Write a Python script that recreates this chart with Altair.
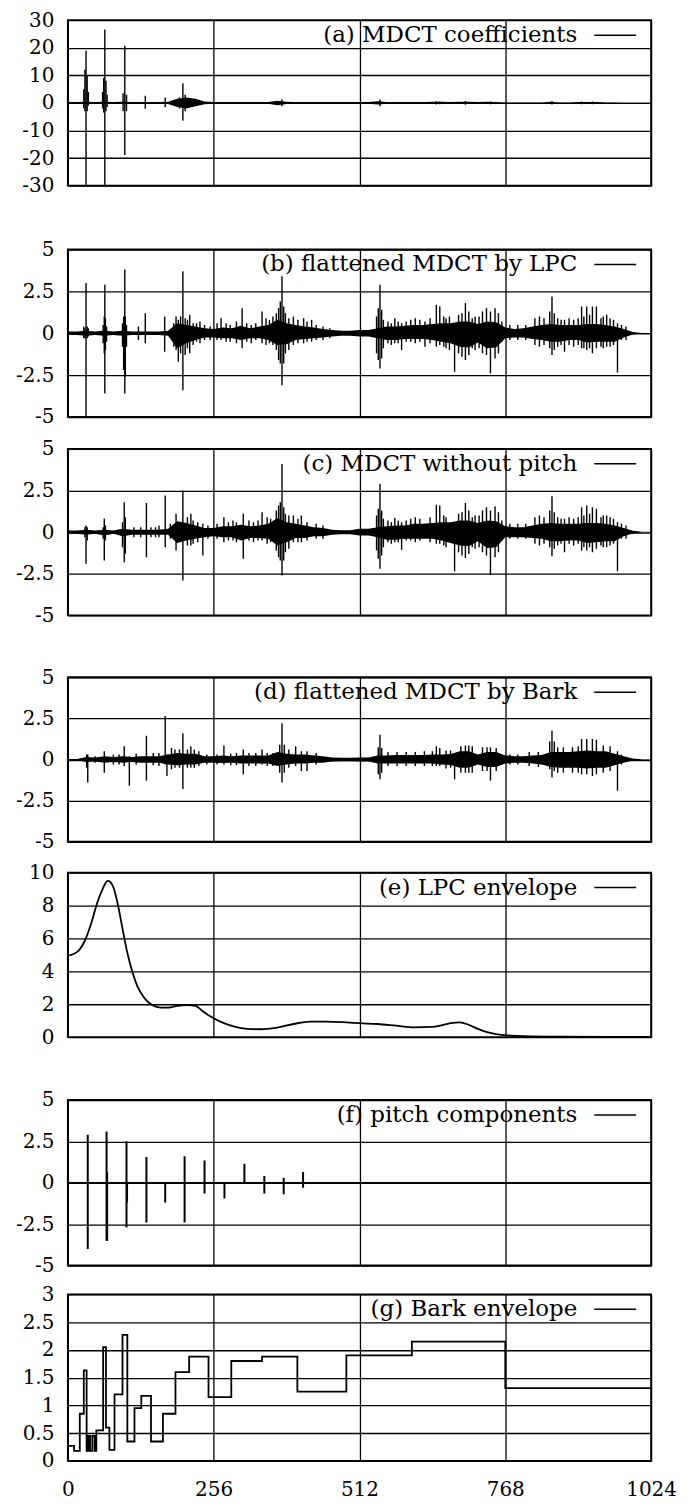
import altair as alt
import pandas as pd

# ---------------- data ----------------
X_TICKS = [0, 256, 512, 768, 1024]
ENV_BINS = list(range(0, 1025, 16))

LABELS = ["(a) MDCT coefficients", "(b) flattened MDCT by LPC", "(c) MDCT without pitch",
          "(d) flattened MDCT by Bark", "(e) LPC envelope", "(f) pitch components",
          "(g) Bark envelope"]

# (a) MDCT coefficients: dense core + individual spikes
A_HI = [0.3, 0.3, 0.4, 0.3, 0.4, 0.3, 0.4, 0.3,
        0.3, 0.3, 0.3, 0.4, 1.5, 2.0, 1.5, 0.5,
        0.3, 0.3, 0.3, 0.3, 0.3, 0.3, 0.3, 0.8,
        0.4, 0.3, 0.3, 0.3, 0.3, 0.3, 0.3, 0.3,
        0.3, 0.3, 0.6, 0.3, 0.3, 0.3, 0.3, 0.3,
        0.4, 0.4, 0.3, 0.4, 0.4, 0.3, 0.4, 0.3,
        0.2, 0.2, 0.2, 0.2, 0.2, 0.4, 0.2, 0.2,
        0.3, 0.3, 0.3, 0.2, 0.2, 0.1, 0.1, 0.1,
        0.1]
A_LO = [-0.3, -0.3, -0.4, -0.3, -0.4, -0.3, -0.4, -0.3,
        -0.3, -0.3, -0.3, -0.4, -1.5, -2.0, -1.2, -0.5,
        -0.3, -0.3, -0.3, -0.3, -0.3, -0.3, -0.3, -0.8,
        -0.4, -0.3, -0.3, -0.3, -0.3, -0.3, -0.3, -0.3,
        -0.3, -0.3, -0.6, -0.3, -0.3, -0.3, -0.3, -0.3,
        -0.4, -0.4, -0.3, -0.4, -0.4, -0.3, -0.4, -0.3,
        -0.2, -0.2, -0.2, -0.2, -0.2, -0.4, -0.2, -0.2,
        -0.3, -0.3, -0.3, -0.2, -0.2, -0.1, -0.1, -0.1,
        -0.1]
A_SPK_BIN = [28, 30, 32, 34, 36, 61, 63, 65, 67, 69, 97, 100, 103, 136, 171,
             196, 202, 206, 376, 548, 647, 653, 698, 742, 850, 902, 921]
A_SPK_LO = [-2, -3, -30, -3, -1, -2, -3.5, -30, -3, -1.5, -3, -18.9, -3, -2.1, -1.5,
            -2, -6.5, -3, -1.2, -1.2, -0.6, -0.5, -0.7, -0.5, -0.6, -0.5, -0.5]
A_SPK_HI = [5, 12, 18.9, 10, 4, 4, 9, 26.6, 8, 3, 3.5, 20.7, 3, 2.6, 2.0,
            2, 7.1, 3, 1.2, 1.2, 0.6, 0.5, 0.7, 0.5, 0.7, 0.5, 0.5]

# noise peaks shared by (b) and (c) in the upper half of the spectrum
BC_RIGHT_BIN = [562, 568, 580, 594, 602, 610, 618, 636, 660, 664, 686, 692, 704, 710, 722, 728,
                756, 762, 776, 790, 804, 820, 828, 836, 860, 866, 880, 888, 896, 906, 916, 936,
                940, 952, 958, 972, 980]
BC_RIGHT_LO = [-0.6, -0.7, -0.6, -0.5, -0.5, -0.6, -0.5, -0.6, -0.8, -0.9, -1.2, -1.4, -1.3, -0.9,
               -0.9, -1.2, -1.2, -0.5, -0.4, -0.4, -0.4, -0.7, -0.8, -0.7, -0.8, -0.7, -0.7, -0.8,
               -0.7, -0.9, -0.9, -0.8, -0.9, -0.8, -0.7, -0.4, -0.4]
BC_RIGHT_HI = [0.7, 0.6, 0.7, 0.7, 0.8, 0.9, 0.8, 0.9, 1.0, 0.9, 1.1, 1.2, 1.3, 0.9, 1.0, 1.3,
               1.2, 0.7, 0.5, 0.5, 0.5, 0.9, 1.0, 0.9, 0.9, 0.8, 0.9, 0.8, 0.9, 1.0, 1.1, 0.9,
               1.0, 0.9, 0.8, 0.5, 0.4]

# (b) flattened MDCT by LPC: dense core
B_HI = [0.1, 0.1, 0.15, 0.1, 0.15, 0.1, 0.15, 0.1,
        0.1, 0.1, 0.1, 0.15, 0.6, 0.5, 0.4, 0.3,
        0.25, 0.35, 0.3, 0.45, 0.3, 0.4, 0.5, 0.8,
        0.6, 0.5, 0.4, 0.35, 0.25, 0.2, 0.15, 0.15,
        0.2, 0.2, 0.3, 0.4, 0.4, 0.45, 0.5, 0.5,
        0.55, 0.6, 0.6, 0.7, 0.7, 0.55, 0.7, 0.65,
        0.35, 0.25, 0.3, 0.4, 0.5, 0.55, 0.5, 0.5,
        0.5, 0.55, 0.55, 0.5, 0.4, 0.25, 0.08, 0.02,
        0.02]
B_LO = [-0.1, -0.1, -0.15, -0.1, -0.15, -0.1, -0.15, -0.1,
        -0.1, -0.1, -0.1, -0.15, -0.9, -0.6, -0.4, -0.25,
        -0.25, -0.3, -0.3, -0.4, -0.3, -0.3, -0.4, -0.7,
        -0.65, -0.4, -0.35, -0.3, -0.25, -0.2, -0.15, -0.15,
        -0.2, -0.2, -0.3, -0.4, -0.4, -0.35, -0.35, -0.35,
        -0.4, -0.5, -0.6, -0.8, -0.85, -0.55, -0.9, -0.85,
        -0.3, -0.25, -0.25, -0.35, -0.4, -0.5, -0.5, -0.4,
        -0.4, -0.55, -0.5, -0.5, -0.5, -0.25, -0.08, -0.02,
        -0.02]
B_SPK_BIN = [28, 30, 32, 34, 36, 62, 64, 65, 66, 68, 96, 98, 100, 101, 103,
             124, 136, 170, 186, 190, 194, 198, 202, 206, 214, 232, 269, 306, 341, 360,
             370, 373, 376, 379, 382, 396, 414, 428, 542, 545, 548, 551, 554,
             574, 586, 627, 647, 653, 670, 679, 698, 715, 735, 742, 750,
             846, 850, 854, 872, 902, 911, 921, 928, 946, 965,
             210, 220, 226, 240, 250, 262, 278, 285, 296, 314, 322, 330, 348, 354, 366, 388,
             404, 420, 436, 448, 460]
B_SPK_LO = [-0.3, -0.3, -5.0, -0.3, -0.2, -0.6, -1.2, -3.6, -1.0, -0.5, -0.8, -2.2, -3.6, -2.6, -0.8,
            -0.4, -0.6, -1.1, -0.8, -1.0, -1.7, -1.2, -3.4, -1.3, -1.2, -0.6, -0.4, -0.9, -0.6, -0.7,
            -1.6, -1.8, -3.1, -1.8, -1.2, -0.7, -0.6, -0.5, -1.2, -1.6, -2.1, -1.5, -0.9,
            -0.6, -1.0, -0.8, -0.8, -0.7, -1.0, -2.3, -1.6, -1.0, -1.3, -2.4, -1.5,
            -0.9, -1.3, -1.0, -1.1, -0.9, -1.0, -1.2, -0.9, -0.8, -2.35,
            -0.9, -0.7, -0.5, -0.4, -0.4, -0.4, -0.5, -0.5, -0.6, -0.5, -0.6, -0.4, -0.7, -0.6, -1.0, -1.0,
            -0.6, -0.5, -0.4, -0.4, -0.3]
B_SPK_HI = [0.4, 0.3, 3.0, 0.4, 0.3, 0.5, 1.0, 2.9, 0.9, 0.4, 0.6, 1.0, 3.8, 1.0, 0.5,
            0.4, 1.2, 1.0, 0.6, 1.0, 0.8, 1.0, 3.7, 0.9, 1.1, 0.7, 0.9, 1.5, 1.3, 1.0,
            1.5, 1.9, 3.4, 1.6, 1.2, 1.0, 0.9, 0.8, 1.0, 1.5, 2.9, 1.4, 0.8,
            0.9, 0.6, 0.7, 1.7, 1.6, 1.0, 0.6, 1.8, 1.0, 1.5, 1.3, 1.5,
            1.3, 2.2, 1.2, 0.8, 1.6, 1.6, 1.6, 1.6, 1.1, 0.6,
            0.8, 0.6, 0.6, 0.5, 0.4, 0.6, 0.6, 0.5, 0.7, 0.6, 0.5, 0.6, 0.9, 0.8, 1.2, 0.9,
            0.8, 0.7, 0.5, 0.4, 0.3]

# (c) MDCT without pitch: dense core
C_HI = [0.1, 0.1, 0.15, 0.1, 0.15, 0.1, 0.2, 0.15,
        0.15, 0.15, 0.15, 0.2, 0.65, 0.55, 0.4, 0.25,
        0.25, 0.35, 0.35, 0.45, 0.35, 0.4, 0.5, 0.85,
        0.6, 0.5, 0.4, 0.3, 0.25, 0.15, 0.12, 0.12,
        0.2, 0.2, 0.3, 0.35, 0.4, 0.4, 0.5, 0.5,
        0.55, 0.6, 0.6, 0.7, 0.7, 0.55, 0.7, 0.65,
        0.35, 0.3, 0.3, 0.4, 0.5, 0.55, 0.5, 0.5,
        0.5, 0.55, 0.55, 0.5, 0.4, 0.25, 0.08, 0.02,
        0.02]
C_LO = [-0.1, -0.1, -0.15, -0.1, -0.2, -0.1, -0.25, -0.15,
        -0.15, -0.15, -0.15, -0.15, -0.65, -0.5, -0.4, -0.3,
        -0.25, -0.3, -0.3, -0.5, -0.35, -0.35, -0.4, -0.8,
        -0.6, -0.35, -0.35, -0.25, -0.25, -0.15, -0.12, -0.12,
        -0.2, -0.2, -0.3, -0.45, -0.45, -0.4, -0.4, -0.4,
        -0.4, -0.5, -0.65, -0.8, -0.85, -0.55, -0.95, -0.9,
        -0.3, -0.3, -0.3, -0.35, -0.4, -0.55, -0.55, -0.5,
        -0.5, -0.65, -0.6, -0.55, -0.55, -0.25, -0.08, -0.02,
        -0.02]
C_SPK_BIN = [30, 32, 34, 62, 64, 66, 96, 99, 101, 128, 138, 154, 171, 190, 202, 216, 237,
             274, 290, 308, 341, 370, 373, 376, 379, 382, 396, 410,
             542, 545, 548, 551, 554, 574, 586, 647, 653, 679, 698, 715, 735, 742, 750,
             846, 850, 854, 872, 902, 911, 921, 928, 946, 965,
             116, 146, 160, 180, 210, 220, 228, 246, 262, 282, 296, 318, 326, 334, 350, 356,
             366, 388, 404, 420, 436, 448]
C_SPK_LO = [-0.3, -1.9, -0.5, -0.4, -1.7, -0.5, -0.9, -1.8, -1.3, -0.3, -1.5, -0.3, -0.9, -1.1, -2.9, -0.8, -1.4,
            -0.6, -0.5, -1.6, -0.5, -1.5, -1.7, -2.6, -1.7, -1.2, -0.6, -0.6,
            -1.1, -1.6, -2.2, -1.4, -0.9, -0.6, -1.05, -0.7, -0.7, -2.35, -1.55, -1.0, -1.4, -2.55, -1.5,
            -0.9, -1.45, -1.0, -1.2, -1.1, -1.1, -1.2, -1.0, -0.9, -2.35,
            -0.3, -0.3, -0.3, -0.4, -0.8, -0.7, -0.6, -0.4, -0.4, -0.5, -0.6, -0.5, -0.6, -0.5, -0.7, -0.6,
            -1.1, -1.0, -0.6, -0.5, -0.4, -0.4]
C_SPK_HI = [0.3, 0.4, 0.3, 0.3, 0.8, 0.4, 0.6, 1.8, 0.9, 0.3, 1.75, 0.3, 2.2, 1.1, 2.5, 1.1, 0.5,
            0.9, 0.7, 1.1, 1.2, 1.6, 1.8, 4.1, 1.5, 1.1, 1.0, 1.0,
            1.0, 1.4, 2.9, 1.3, 0.8, 0.85, 0.6, 1.65, 1.6, 0.6, 1.75, 1.0, 1.5, 1.3, 1.55,
            1.3, 2.15, 1.2, 0.8, 1.5, 1.6, 1.5, 1.4, 1.0, 0.6,
            0.3, 0.3, 0.4, 0.5, 0.9, 0.7, 0.6, 0.4, 0.5, 0.6, 0.6, 0.7, 0.6, 0.7, 0.9, 0.8,
            1.3, 1.0, 0.8, 0.6, 0.5, 0.4]

# (d) flattened MDCT by Bark: dense core
D_HI = [0.03, 0.03, 0.15, 0.12, 0.2, 0.15, 0.2, 0.15,
        0.2, 0.2, 0.2, 0.3, 0.4, 0.35, 0.35, 0.2,
        0.2, 0.25, 0.2, 0.25, 0.25, 0.25, 0.25, 0.45,
        0.35, 0.3, 0.3, 0.25, 0.2, 0.12, 0.1, 0.1,
        0.12, 0.12, 0.25, 0.25, 0.28, 0.28, 0.28, 0.28,
        0.3, 0.3, 0.33, 0.5, 0.5, 0.3, 0.45, 0.45,
        0.25, 0.2, 0.2, 0.25, 0.28, 0.45, 0.45, 0.45,
        0.5, 0.55, 0.5, 0.5, 0.35, 0.2, 0.06, 0.02,
        0.02]
D_LO = [-0.03, -0.03, -0.15, -0.12, -0.2, -0.15, -0.2, -0.15,
        -0.2, -0.2, -0.2, -0.3, -0.35, -0.3, -0.3, -0.2,
        -0.2, -0.22, -0.2, -0.25, -0.25, -0.25, -0.25, -0.4,
        -0.3, -0.25, -0.25, -0.2, -0.2, -0.12, -0.1, -0.1,
        -0.12, -0.12, -0.25, -0.25, -0.25, -0.25, -0.25, -0.25,
        -0.25, -0.3, -0.33, -0.5, -0.5, -0.3, -0.45, -0.45,
        -0.25, -0.2, -0.2, -0.25, -0.3, -0.45, -0.5, -0.5,
        -0.5, -0.55, -0.5, -0.5, -0.35, -0.2, -0.06, -0.02,
        -0.02]
D_SPK_BIN = [33, 35, 64, 99, 108, 138, 171, 174, 202, 216, 274, 308, 341, 372, 376, 380, 410,
             545, 548, 551, 647, 653, 679, 698, 742, 846, 850, 854, 902, 911, 921, 928, 965,
             48, 80, 90, 120, 150, 160, 182, 188, 196, 210, 222, 230, 244, 262, 286, 296, 318,
             330, 350, 360, 388, 400, 420, 436, 562, 578, 594, 610, 626, 640, 664, 672, 690,
             704, 710, 728, 736, 752, 776, 790, 810, 826, 860, 870, 886, 896, 940, 952, 972]
D_SPK_LO = [-0.5, -1.4, -0.8, -0.4, -1.6, -1.3, -0.3, -1.0, -1.8, -0.5, -0.3, -0.9, -0.3, -0.8, -1.4, -0.8, -0.7,
            -0.9, -1.2, -0.8, -0.4, -0.4, -1.2, -0.8, -1.3, -0.6, -1.1, -0.7, -0.9, -0.9, -1.0, -0.9, -1.9,
            -0.2, -0.3, -0.3, -0.3, -0.35, -0.4, -0.6, -0.5, -0.5, -0.5, -0.5, -0.4, -0.3, -0.3, -0.35, -0.35, -0.4,
            -0.4, -0.4, -0.4, -0.5, -0.4, -0.7, -0.3, -0.4, -0.4, -0.4, -0.4, -0.4, -0.4, -0.55, -0.5, -0.8,
            -0.8, -0.8, -0.7, -0.7, -0.7, -0.3, -0.3, -0.4, -0.45, -0.8, -0.8, -0.8, -0.8, -0.8, -0.7, -0.3]
D_SPK_HI = [0.3, 0.3, 0.5, 0.8, 0.2, 1.45, 2.65, 0.3, 1.6, 0.8, 0.85, 0.6, 0.6, 0.9, 2.2, 0.9, 0.5,
            0.75, 1.5, 0.7, 0.8, 0.7, 0.4, 0.85, 0.75, 1.1, 1.75, 1.1, 1.25, 1.25, 1.25, 1.2, 0.5,
            0.2, 0.3, 0.3, 0.35, 0.4, 0.4, 0.7, 0.6, 0.6, 0.6, 0.6, 0.5, 0.3, 0.3, 0.35, 0.4, 0.4,
            0.4, 0.4, 0.4, 0.6, 0.8, 0.5, 0.4, 0.45, 0.45, 0.45, 0.45, 0.5, 0.5, 0.55, 0.55, 0.8,
            0.85, 0.8, 0.75, 0.75, 0.7, 0.3, 0.3, 0.45, 0.45, 0.75, 0.75, 0.75, 0.8, 0.85, 0.8, 0.3]

# (e) LPC envelope
E_BIN = [0, 17, 29, 40, 52, 61, 70, 79, 87, 96, 104, 113, 122, 134, 148, 163, 177, 192, 209, 224,
         238, 256, 274, 291, 315, 338, 367, 396, 425, 454, 489, 512, 544, 576, 608, 640, 656, 672,
         688, 704, 720, 736, 752, 768, 800, 864, 1024]
E_VAL = [4.95, 5.2, 5.8, 6.8, 8.2, 9.0, 9.5, 9.2, 8.2, 6.6, 5.2, 4.0, 3.1, 2.4, 1.95, 1.8, 1.8, 1.9,
         1.95, 1.9, 1.55, 1.15, 0.85, 0.65, 0.5, 0.48, 0.58, 0.8, 0.95, 0.95, 0.9, 0.85, 0.8, 0.7,
         0.6, 0.62, 0.72, 0.85, 0.9, 0.75, 0.5, 0.3, 0.18, 0.12, 0.06, 0.03, 0.02]

# (f) pitch components
F_BIN = [35, 68, 69, 103, 104, 138, 171, 205, 240, 275, 310, 345, 379, 413]
F_LO = [-4.0, -3.5, -3.5, -2.7, -1.2, -2.4, -1.2, -2.4, -0.65, -0.95, -0.05, -0.65, -0.7, -0.3]
F_HI = [2.9, 3.1, 0.65, 2.5, 0.0, 1.55, 0.0, 1.6, 1.35, 0.0, 1.15, 0.4, 0.3, 0.65]
F_BASE_BIN = [0, 1024]
F_BASE_VAL = [0, 0]

# (g) Bark envelope (step start bins and levels)
G_BIN = [0, 11, 21, 28, 33, 36, 39, 43, 47, 50, 62, 67, 73, 82, 96, 104.5, 117, 129, 146, 167,
         189, 213, 247, 287, 341, 403, 489, 604, 768, 1024]
G_VAL = [0.27, 0.18, 0.85, 1.63, 0.18, 0.45, 0.18, 0.45, 0.18, 0.55, 2.05, 0.6, 0.2, 1.2, 2.27,
         0.35, 0.95, 1.17, 0.35, 0.85, 1.6, 1.88, 1.15, 1.8, 1.88, 1.25, 1.9, 2.15, 1.31, 1.31]

# ---------------- chart building ----------------
W = 585
SERIF = "DejaVu Serif"


def xenc(show_labels=False):
    return alt.X("bin:Q", scale=alt.Scale(domain=[0, 1024], nice=False, zero=False),
                 axis=alt.Axis(values=X_TICKS, grid=True, labels=show_labels, ticks=False,
                               domain=False, title=None, labelFlush=False, labelPadding=19,
                               labelExpr="'' + datum.value"))


def yenc(field, dom, ticks):
    return alt.Y(field + ":Q", scale=alt.Scale(domain=dom, nice=False, zero=False),
                 axis=alt.Axis(values=ticks, grid=True, ticks=False, domain=False, title=None,
                               labelExpr="'' + datum.value", labelOverlap=False))


def legend(label):
    d = pd.DataFrame({"t": [label]})
    txt = alt.Chart(d).mark_text(align="right", baseline="middle", font=SERIF, fontSize=23,
                                 color="black").encode(text="t:N", x=alt.value(511), y=alt.value(15))
    ln = alt.Chart(d).mark_rule(color="black", strokeWidth=1.5).encode(
        x=alt.value(528), x2=alt.value(570), y=alt.value(15))
    return [txt, ln]


def signal_panel(hi, lo, sb, slo, shi, dom, ticks, label, h, extra=None):
    env = pd.DataFrame({"bin": ENV_BINS, "hi": hi, "lo": lo})
    sb, slo, shi = list(sb), list(slo), list(shi)
    if extra is not None:
        sb += extra[0]
        slo += extra[1]
        shi += extra[2]
    spk = pd.DataFrame({"bin": sb, "lo": slo, "hi": shi})
    area = alt.Chart(env).mark_area(color="black", clip=True, interpolate="linear").encode(
        x=xenc(), y=yenc("hi", dom, ticks), y2="lo:Q")
    rule = alt.Chart(spk).mark_rule(color="black", strokeWidth=1.4, clip=True).encode(
        x=xenc(), y=yenc("lo", dom, ticks), y2="hi:Q")
    return alt.layer(area, rule, *legend(label)).properties(width=W, height=h)


def spacer(h):
    return alt.Chart(pd.DataFrame({"v": [0]})).mark_point(opacity=0).encode(
        x=alt.X("v:Q", axis=None), y=alt.Y("v:Q", axis=None)
    ).properties(width=W, height=h, view=alt.ViewBackground(stroke=None))


T5 = [-5, -2.5, 0, 2.5, 5]
BC_EXTRA = (BC_RIGHT_BIN, BC_RIGHT_LO, BC_RIGHT_HI)

pa = signal_panel(A_HI, A_LO, A_SPK_BIN, A_SPK_LO, A_SPK_HI, [-30, 30],
                  [-30, -20, -10, 0, 10, 20, 30], LABELS[0], 166)
pb = signal_panel(B_HI, B_LO, B_SPK_BIN, B_SPK_LO, B_SPK_HI, [-5, 5], T5, LABELS[1], 168, BC_EXTRA)
pc = signal_panel(C_HI, C_LO, C_SPK_BIN, C_SPK_LO, C_SPK_HI, [-5, 5], T5, LABELS[2], 167, BC_EXTRA)
pd_ = signal_panel(D_HI, D_LO, D_SPK_BIN, D_SPK_LO, D_SPK_HI, [-5, 5], T5, LABELS[3], 165)

e_df = pd.DataFrame({"bin": E_BIN, "v": E_VAL})
pe = alt.layer(
    alt.Chart(e_df).mark_line(color="black", strokeWidth=1.8, interpolate="monotone", clip=True).encode(
        x=xenc(), y=yenc("v", [0, 10], [0, 2, 4, 6, 8, 10])),
    *legend(LABELS[4])
).properties(width=W, height=165)

f_df = pd.DataFrame({"bin": F_BIN, "lo": F_LO, "hi": F_HI})
fb_df = pd.DataFrame({"bin": F_BASE_BIN, "lo": F_BASE_VAL})
pf = alt.layer(
    alt.Chart(fb_df).mark_line(color="black", strokeWidth=1.5).encode(
        x=xenc(), y=yenc("lo", [-5, 5], T5)),
    alt.Chart(f_df).mark_rule(color="black", strokeWidth=2, clip=True).encode(
        x=xenc(), y=yenc("lo", [-5, 5], T5), y2="hi:Q"),
    *legend(LABELS[5])
).properties(width=W, height=166)

g_df = pd.DataFrame({"bin": G_BIN, "v": G_VAL})
pg = alt.layer(
    alt.Chart(g_df).mark_line(color="black", strokeWidth=1.8, interpolate="step-after", clip=True).encode(
        x=xenc(True), y=yenc("v", [0, 3], [0, 0.5, 1, 1.5, 2, 2.5, 3])),
    *legend(LABELS[6])
).properties(width=W, height=167)

chart = alt.vconcat(
    pa, spacer(64), pb, spacer(32), pc, spacer(62), pd_, spacer(31), pe, spacer(63), pf, spacer(29), pg,
    spacing=0, bounds="flush"
).properties(
    padding={"left": 6, "top": -1, "right": 5, "bottom": 0}
).configure_view(
    stroke="black", strokeWidth=1.8
).configure_axis(
    labelFont=SERIF, labelFontSize=20, labelColor="black", labelPadding=14,
    gridColor="black", gridWidth=1.3, gridOpacity=1, domain=False, ticks=False
)

chart.save("out.html", embed_options={"renderer": "svg", "actions": False})
